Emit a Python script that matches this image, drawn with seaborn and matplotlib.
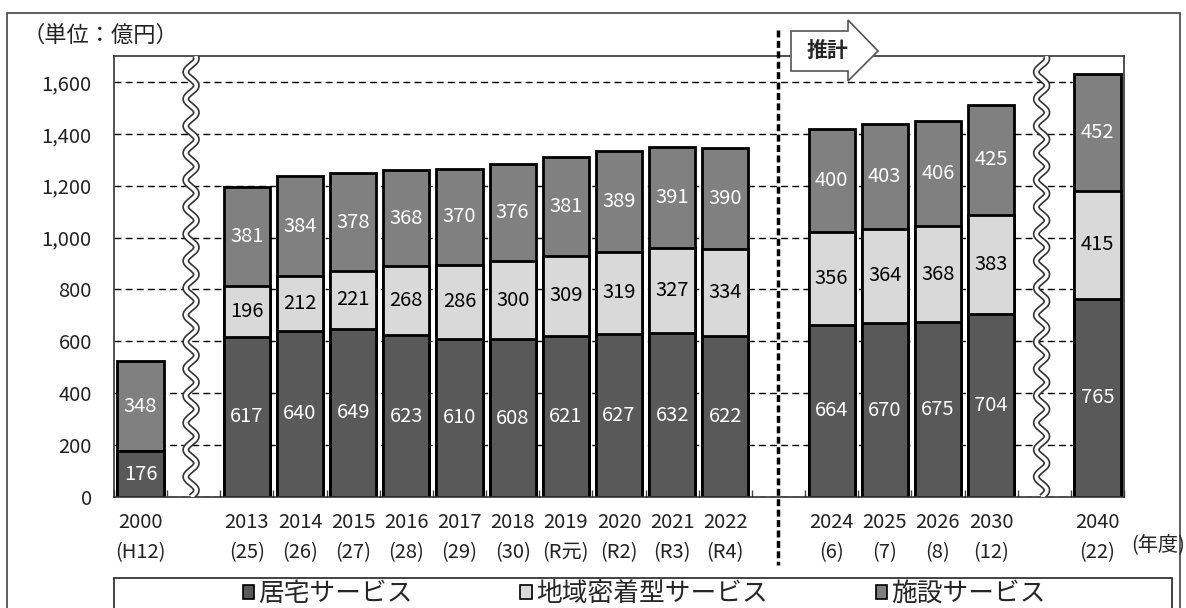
import numpy as np
import pandas as pd
import matplotlib
matplotlib.use("Agg")
import matplotlib.pyplot as plt
import seaborn as sns
from matplotlib.patches import Rectangle, Polygon, Patch

# ---- data (億円) ----
years = ["2000", "2013", "2014", "2015", "2016", "2017", "2018", "2019",
         "2020", "2021", "2022", "2024", "2025", "2026", "2030", "2040"]
eras = ["(H12)", "(25)", "(26)", "(27)", "(28)", "(29)", "(30)", "(R元)",
        "(R2)", "(R3)", "(R4)", "(6)", "(7)", "(8)", "(12)", "(22)"]
home = [176, 617, 640, 649, 623, 610, 608, 621, 627, 632, 622, 664, 670, 675, 704, 765]
community = [0, 196, 212, 221, 268, 286, 300, 309, 319, 327, 334, 356, 364, 368, 383, 415]
facility = [348, 381, 384, 378, 368, 370, 376, 381, 389, 391, 390, 400, 403, 406, 425, 452]
series_names = ["居宅サービス", "地域密着型サービス", "施設サービス"]
yticks = [0, 200, 400, 600, 800, 1000, 1200, 1400, 1600]

# category slots: empty slots mark the axis breaks and the estimate boundary
order = (["2000", "gap_a"] + years[1:11] + ["gap_b"] + years[11:15]
         + ["gap_c", "2040"])

colors = ["#595959", "#d9d9d9", "#808080"]
text_colors = ["white", "black", "white"]

sns.set_theme(style="white")
plt.rcParams["font.family"] = ["Noto Sans CJK JP", "DejaVu Sans"]

W, H = 1186, 608
fig = plt.figure(figsize=(W / 100, H / 100), dpi=100)
ax = fig.add_axes([114 / W, 1 - 497 / H, (1124 - 114) / W, (497 - 56) / H])

df = pd.DataFrame({"year": years, "home": home,
                   "community": community, "facility": facility})
df["lvl1"] = df["home"]
df["lvl2"] = df["home"] + df["community"]
df["lvl3"] = df["lvl2"] + df["facility"]

# stacked bars: draw cumulative totals from the top layer down
for col, color in [("lvl3", colors[2]), ("lvl2", colors[1]), ("lvl1", colors[0])]:
    sns.barplot(data=df, x="year", y=col, order=order, color=color,
                saturation=1, width=0.87, edgecolor="black", linewidth=2,
                ax=ax, zorder=2)

# segment value labels
for _, r in df.iterrows():
    xi = order.index(r["year"])
    bottoms = [0, r["lvl1"], r["lvl2"]]
    vals = [r["home"], r["community"], r["facility"]]
    for b, v, tc in zip(bottoms, vals, text_colors):
        if v > 0:
            ax.text(xi, b + v / 2, f"{v}", ha="center", va="center",
                    color=tc, fontsize=14.5, zorder=4)

ax.set_xlim(-0.5, len(order) - 0.5)
ax.set_ylim(0, 1700)
ax.set_yticks(yticks)
ax.set_yticklabels([f"{v:,}" for v in yticks], fontsize=14.5, color="#222222")
ax.yaxis.grid(True, linestyle=(0, (5, 3)), color="black", linewidth=1)
ax.set_axisbelow(True)

xt_pos = [order.index(y) for y in years]
ax.set_xticks(xt_pos)
ax.set_xticklabels([f"{y}\n{e}" for y, e in zip(years, eras)],
                   fontsize=14.5, linespacing=1.55, color="#222222")
ax.set_xticks(np.arange(-0.5, len(order), 1), minor=True)
ax.tick_params(axis="x", which="major", length=0, pad=11)
ax.tick_params(axis="x", which="minor", direction="in", length=5,
               width=1, color="#444444", bottom=True)
ax.tick_params(axis="y", length=0, pad=16)
ax.set_xlabel("")
ax.set_ylabel("")
for s in ax.spines.values():
    s.set_color("#333333")
    s.set_linewidth(1.2)

# wavy axis-break markers
yy = np.linspace(0, 1700, 800)
for slot in ["gap_a", "gap_c"]:
    xc = order.index(slot) - 0.05
    xx = xc + 0.1 * np.sin(2 * np.pi * yy / 104)
    ax.plot(xx, yy, color="#333333", lw=5, zorder=3, solid_capstyle="butt")
    ax.plot(xx, yy, color="white", lw=2.6, zorder=3.1, solid_capstyle="butt")

# boundary between actual and estimated values
xb = order.index("gap_b")
ax.plot([xb, xb], [1 + 26 / 441, -68 / 441], transform=ax.get_xaxis_transform(),
        color="black", lw=2.5, linestyle=(0, (2, 1)), clip_on=False, zorder=5)

# "推計" arrow
def fp(x, y):
    return (x / W, 1 - y / H)

arrow = Polygon([fp(791, 31), fp(848, 31), fp(848, 20), fp(878, 51),
                 fp(848, 81), fp(848, 71), fp(791, 71)],
                closed=True, transform=fig.transFigure, facecolor="white",
                edgecolor="#555555", lw=1.2, zorder=5)
fig.patches.append(arrow)
fig.text(827 / W, 1 - 50 / H, "推計", ha="center", va="center",
         fontsize=15, fontweight="bold", zorder=6)

# unit and axis annotations
fig.text(22 / W, 1 - 35 / H, "（単位：億円）", ha="left", va="center",
         fontsize=16, color="#222222")
fig.text(1158 / W, 1 - 545 / H, "(年度)", ha="center", va="center",
         fontsize=14.5, color="#222222")

# outer frame
fig.patches.append(Rectangle(fp(7, 640), (1180 - 7) / W, (640 - 13) / H,
                             transform=fig.transFigure, fill=False,
                             edgecolor="#444444", lw=1.2, zorder=0))
# legend frame
fig.patches.append(Rectangle(fp(114, 640), (1172 - 114) / W, (640 - 578) / H,
                             transform=fig.transFigure, fill=False,
                             edgecolor="#222222", lw=1.2, zorder=1))

handles = [Patch(facecolor=c, edgecolor="black", lw=1.2) for c in colors]
fig.legend(handles, series_names, loc="center", ncol=3,
           bbox_to_anchor=(644 / W, 1 - 594 / H), frameon=False,
           fontsize=18.5, handlelength=0.45, handleheight=0.45,
           handletextpad=0.15, columnspacing=4.2, borderpad=0.1)

fig.savefig("out.png", dpi=100)
